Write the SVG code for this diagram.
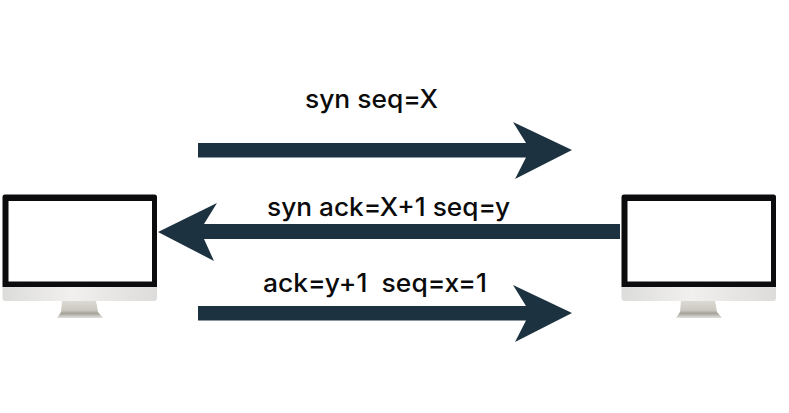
<svg xmlns="http://www.w3.org/2000/svg" width="789" height="413" viewBox="0 0 789 413">
<style>
.label{font-family:"Inter","Liberation Sans",sans-serif;font-size:25.5px;font-weight:450;fill:#0b0b0b}
.arrow{fill:#1d3240}
</style>
<defs>
<linearGradient id="chin" x1="0" y1="0" x2="1" y2="0">
<stop offset="0" stop-color="#dcdcda"/><stop offset="0.45" stop-color="#f1f0ee"/><stop offset="1" stop-color="#dddcda"/>
</linearGradient>
<linearGradient id="stand" x1="0" y1="0" x2="0" y2="1">
<stop offset="0" stop-color="#dcdad4"/><stop offset="0.55" stop-color="#cac8c0"/><stop offset="0.72" stop-color="#a3a198"/><stop offset="1" stop-color="#e2e1dd"/>
</linearGradient>
<g id="monitor">
<path d="M62 301H96L98 312L103 318H57L61 312Z" fill="url(#stand)"/>
<path d="M2.500 287H157V298Q157 301 154 301H5.500Q2.500 301 2.500 298Z" fill="url(#chin)"/>
<path d="M5 194.500H154.500Q157 194.500 157 197V287H2.500V197Q2.500 194.500 5 194.500Z" fill="#0c0c0e"/>
<rect x="8.500" y="201" width="143.500" height="80.500" fill="#ffffff"/>
</g>
</defs>
<rect width="789" height="413" fill="#ffffff"/>
<g id="connectors">
<path id="arrow-syn" class="arrow" d="M198 143H526L513 122L572 150L515 179L526 157.500H198Z"/>
<path id="arrow-syn-ack" class="arrow" d="M620 224H204L217 203L158 232L214 261L204 239H620Z"/>
<path id="arrow-ack" class="arrow" d="M198 306H526L513 285L572 313L515 342L526 320.500H198Z"/>
</g>
<g id="client"><use href="#monitor"/></g>
<g id="server"><use href="#monitor" x="619"/></g>
<g id="label-syn"><text class="label" x="305" y="108" textLength="133" lengthAdjust="spacingAndGlyphs">syn seq=X</text></g>
<g id="label-syn-ack"><text class="label" x="267" y="216" textLength="243" lengthAdjust="spacingAndGlyphs">syn ack=X+1 seq=y</text></g>
<g id="label-ack"><text class="label" x="263" y="292" textLength="224" lengthAdjust="spacingAndGlyphs" xml:space="preserve">ack=y+1  seq=x=1</text></g>
</svg>
